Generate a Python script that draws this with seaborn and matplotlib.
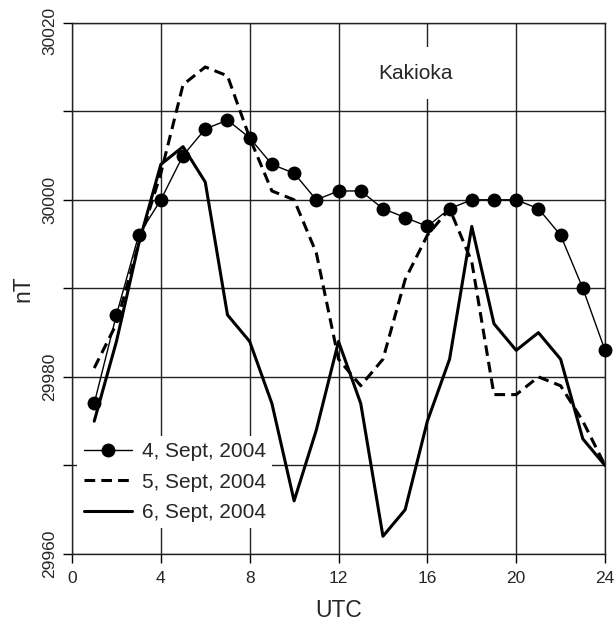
import matplotlib
matplotlib.use("Agg")
import matplotlib.pyplot as plt
import matplotlib.transforms as mtransforms
import seaborn as sns
import pandas as pd
import numpy as np

hours = list(range(1, 25))
sept4 = [29977, 29987, 29996, 30000, 30005, 30008, 30009, 30007, 30004, 30003, 30000, 30001,
         30001, 29999, 29998, 29997, 29999, 30000, 30000, 30000, 29999, 29996, 29990, 29983]
sept5 = [29981, 29986, 29995, 30003, 30013, 30015, 30014, 30007, 30001, 30000, 29994, 29982,
         29979, 29982, 29991, 29996, 29999, 29993, 29978, 29978, 29980, 29979, 29975, 29970]
sept6 = [29975, 29984, 29995, 30004, 30006, 30002, 29987, 29984, 29977, 29966, 29974, 29984,
         29977, 29962, 29965, 29975, 29982, 29997, 29986, 29983, 29985, 29982, 29973, 29970]
labels = ["4, Sept, 2004", "5, Sept, 2004", "6, Sept, 2004"]
x_ticks = [0, 4, 8, 12, 16, 20, 24]
y_ticks = [29960, 29970, 29980, 29990, 30000, 30010, 30020]
y_ticklabels = ["29960", "", "29980", "", "30000", "", "30020"]

sns.set_style("ticks")
plt.rcParams['font.family'] = ['Liberation Sans', 'DejaVu Sans']

fig = plt.figure(figsize=(6.16, 6.24), dpi=100)
ax = fig.add_axes([0.1169, 0.1122, 0.8653, 0.8514])

df = pd.DataFrame({"UTC": hours * 3,
                   "nT": sept4 + sept5 + sept6,
                   "day": [labels[0]] * 24 + [labels[1]] * 24 + [labels[2]] * 24})

sns.lineplot(data=df[df.day == labels[0]], x="UTC", y="nT", ax=ax, color="black",
             lw=1.0, marker="o", markersize=10, markeredgewidth=0, label=labels[0],
             zorder=3, clip_on=False)
sns.lineplot(data=df[df.day == labels[1]], x="UTC", y="nT", ax=ax, color="black",
             lw=2.2, linestyle=(0, (3.5, 2.0)), label=labels[1], zorder=3)
sns.lineplot(data=df[df.day == labels[2]], x="UTC", y="nT", ax=ax, color="black",
             lw=2.2, label=labels[2], zorder=3)

ax.set_xlim(0, 24)
ax.set_ylim(29960, 30020)
ax.set_xticks(x_ticks)
ax.set_yticks(y_ticks)
ax.set_yticklabels(y_ticklabels, rotation=90, va="center")
ax.tick_params(axis="both", direction="out", length=6.5, width=1.0, color="black",
               labelsize=12.5)
ax.tick_params(axis="x", pad=6)
ax.tick_params(axis="y", pad=4)
top_lbl = ax.get_yticklabels()[-1]
top_lbl.set_transform(top_lbl.get_transform() +
                      mtransforms.ScaledTranslation(0, -0.08, fig.dpi_scale_trans))
ax.grid(True, color="#222222", lw=1.0)
ax.set_axisbelow(True)
for s in ax.spines.values():
    s.set_color("#222222")
    s.set_linewidth(1.0)
ax.set_xlabel("UTC", fontsize=16.5, labelpad=9)
ax.set_ylabel("nT", fontsize=16.5, labelpad=6)

ax.text(15.45, 30014.3, "Kakioka", fontsize=15, ha="center", va="center", zorder=4,
        bbox=dict(facecolor="white", edgecolor="none", boxstyle="square,pad=0.8"))

leg = ax.legend(loc="upper left", bbox_to_anchor=(0.01, 0.222), borderaxespad=0,
                frameon=True, fontsize=15, handlelength=2.3, handletextpad=0.5,
                labelspacing=0.55, borderpad=0.3, fancybox=False)
leg.get_frame().set_facecolor("white")
leg.get_frame().set_edgecolor("none")
leg.get_frame().set_alpha(1.0)
leg.set_zorder(5)

fig.savefig("out.png", dpi=100)
